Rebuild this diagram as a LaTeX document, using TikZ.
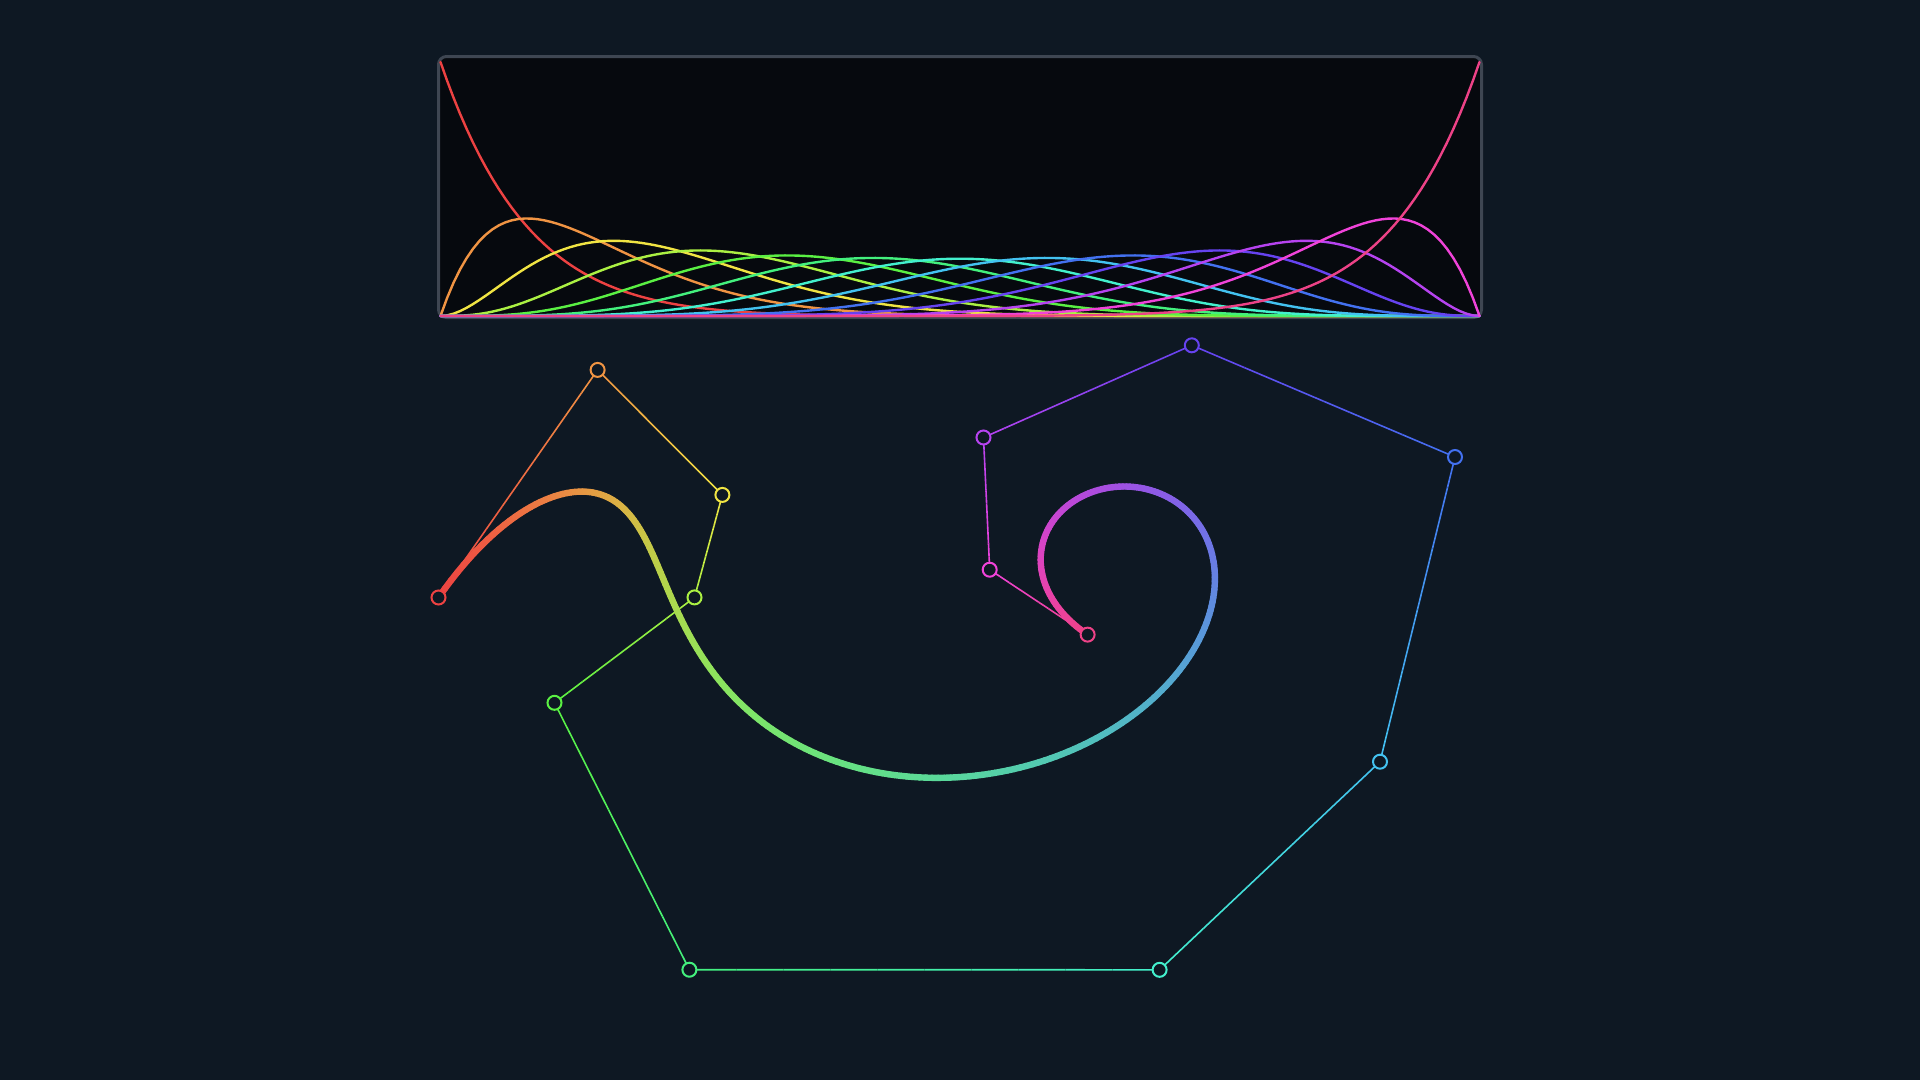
\PassOptionsToPackage{rgb}{xcolor}
\documentclass[tikz,border=0pt]{standalone}
\usetikzlibrary{calc}
\definecolor{bg}{HTML}{0E1823}
\definecolor{boxbg}{HTML}{06090E}
\definecolor{boxline}{HTML}{3E4652}
\definecolor{c0}{RGB}{237,66,66}
\definecolor{c1}{RGB}{240,148,67}
\definecolor{c2}{RGB}{240,228,67}
\definecolor{c3}{RGB}{171,240,67}
\definecolor{c4}{RGB}{90,240,67}
\definecolor{c5}{RGB}{67,240,125}
\definecolor{c6}{RGB}{67,240,205}
\definecolor{c7}{RGB}{67,194,240}
\definecolor{c8}{RGB}{67,113,240}
\definecolor{c9}{RGB}{102,67,240}
\definecolor{c10}{RGB}{182,67,240}
\definecolor{c11}{RGB}{240,67,217}
\definecolor{c12}{RGB}{237,66,135}
\newcommand\binomC[1]{\ifcase#1 1\or12\or66\or220\or495\or792\or924\or792\or495\or220\or66\or12\or1\fi}
\newcommand\BX[1]{\fpeval{round(438.5*(1-#1)^12 + 12*597.6*(#1)*(1-#1)^11 + 66*722.4*(#1)^2*(1-#1)^10 + 220*694.5*(#1)^3*(1-#1)^9 + 495*554.5*(#1)^4*(1-#1)^8 + 792*689.4*(#1)^5*(1-#1)^7 + 924*1159.6*(#1)^6*(1-#1)^6 + 792*1380.0*(#1)^7*(1-#1)^5 + 495*1455.0*(#1)^8*(1-#1)^4 + 220*1191.8*(#1)^9*(1-#1)^3 + 66*983.5*(#1)^10*(1-#1)^2 + 12*989.7*(#1)^11*(1-#1) + 1087.6*(#1)^12,2)}}
\newcommand\BY[1]{\fpeval{round(597.5*(1-#1)^12 + 12*369.9*(#1)*(1-#1)^11 + 66*494.9*(#1)^2*(1-#1)^10 + 220*597.4*(#1)^3*(1-#1)^9 + 495*702.8*(#1)^4*(1-#1)^8 + 792*969.7*(#1)^5*(1-#1)^7 + 924*969.8*(#1)^6*(1-#1)^6 + 792*761.7*(#1)^7*(1-#1)^5 + 495*457.0*(#1)^8*(1-#1)^4 + 220*345.3*(#1)^9*(1-#1)^3 + 66*437.5*(#1)^10*(1-#1)^2 + 12*569.7*(#1)^11*(1-#1) + 634.6*(#1)^12,2)}}
\newcommand\BR[1]{\fpeval{round(237*(1-#1)^12 + 12*240*(#1)*(1-#1)^11 + 66*240*(#1)^2*(1-#1)^10 + 220*171*(#1)^3*(1-#1)^9 + 495*90*(#1)^4*(1-#1)^8 + 792*67*(#1)^5*(1-#1)^7 + 924*67*(#1)^6*(1-#1)^6 + 792*67*(#1)^7*(1-#1)^5 + 495*67*(#1)^8*(1-#1)^4 + 220*102*(#1)^9*(1-#1)^3 + 66*182*(#1)^10*(1-#1)^2 + 12*240*(#1)^11*(1-#1) + 237*(#1)^12,0)}}
\newcommand\BG[1]{\fpeval{round(66*(1-#1)^12 + 12*148*(#1)*(1-#1)^11 + 66*228*(#1)^2*(1-#1)^10 + 220*240*(#1)^3*(1-#1)^9 + 495*240*(#1)^4*(1-#1)^8 + 792*240*(#1)^5*(1-#1)^7 + 924*240*(#1)^6*(1-#1)^6 + 792*194*(#1)^7*(1-#1)^5 + 495*113*(#1)^8*(1-#1)^4 + 220*67*(#1)^9*(1-#1)^3 + 66*67*(#1)^10*(1-#1)^2 + 12*67*(#1)^11*(1-#1) + 66*(#1)^12,0)}}
\newcommand\BB[1]{\fpeval{round(66*(1-#1)^12 + 12*67*(#1)*(1-#1)^11 + 66*67*(#1)^2*(1-#1)^10 + 220*67*(#1)^3*(1-#1)^9 + 495*67*(#1)^4*(1-#1)^8 + 792*125*(#1)^5*(1-#1)^7 + 924*205*(#1)^6*(1-#1)^6 + 792*240*(#1)^7*(1-#1)^5 + 495*240*(#1)^8*(1-#1)^4 + 220*240*(#1)^9*(1-#1)^3 + 66*240*(#1)^10*(1-#1)^2 + 12*217*(#1)^11*(1-#1) + 135*(#1)^12,0)}}
\tikzset{
  bern/.style={line width=2.4pt, line join=round, line cap=round},
  polyline/.style={line width=1.6pt},
  curveseg/.style={line width=6.4pt, line cap=round},
  ctrl/.style={circle, inner sep=0pt, minimum size=14pt, line width=2pt, fill=bg},
}
\begin{document}
\begin{tikzpicture}[x=1pt,y=-1pt]
\useasboundingbox (0,0) rectangle (1920,1080);
\fill[bg] (0,0) rectangle (1920,1080);
% basis panel
\node[draw=boxline, line width=3pt, fill=boxbg, rounded corners=8pt, inner sep=0pt, minimum width=1043pt, minimum height=261pt] (panel) at (960,187) {};
\foreach \i in {0,...,12}{
  \xdef\pth{}
  \foreach \k in {0,...,160}{
    \xdef\pth{\pth (\fpeval{round(440.5+1039*\k/160,2)},\fpeval{round(316-254*\binomC{\i}*(\k/160)^\i*(1-\k/160)^(12-\i),2)})}
  }
  \edef\tmp{\noexpand\draw[bern,c\i] plot coordinates {\pth};}\tmp
}
% control points
\coordinate (P0) at (438.5,597.5);
\coordinate (P1) at (597.6,369.9);
\coordinate (P2) at (722.4,494.9);
\coordinate (P3) at (694.5,597.4);
\coordinate (P4) at (554.5,702.8);
\coordinate (P5) at (689.4,969.7);
\coordinate (P6) at (1159.6,969.8);
\coordinate (P7) at (1380.0,761.7);
\coordinate (P8) at (1455.0,457.0);
\coordinate (P9) at (1191.8,345.3);
\coordinate (P10) at (983.5,437.5);
\coordinate (P11) at (989.7,569.7);
\coordinate (P12) at (1087.6,634.6);
% control polygon with gradient
\foreach \i [evaluate=\i as \j using int(\i+1)] in {0,...,11}{
  \foreach \s in {0,...,9}{
    \pgfmathsetmacro\sa{\s/10}
    \pgfmathsetmacro\sb{(\s+1)/10}
    \pgfmathtruncatemacro\pc{\s*10+5}
    \draw[polyline, draw=c\j!\pc!c\i] ($(P\i)!\sa!(P\j)$) -- ($(P\i)!\sb!(P\j)$);
  }
}
% Bezier curve, coloured by the Bernstein-weighted blend of the point colours
\xdef\px{438.5}\xdef\py{597.5}
\foreach \k in {1,...,300}{
  \edef\myt{\fpeval{\k/300}}
  \edef\mym{\fpeval{(\k-0.5)/300}}
  \edef\nx{\BX{\myt}}\edef\ny{\BY{\myt}}
  \edef\cr{\BR{\mym}}\edef\cg{\BG{\mym}}\edef\cb{\BB{\mym}}
  \definecolor{cc}{RGB}{\cr,\cg,\cb}
  \draw[curveseg, cc] (\px,\py) -- (\nx,\ny);
  \xdef\px{\nx}\xdef\py{\ny}
}
% control point markers
\foreach \i in {0,...,12}{
  \node[ctrl, draw=c\i] (p\i) at (P\i) {};
}
\end{tikzpicture}
\end{document}
